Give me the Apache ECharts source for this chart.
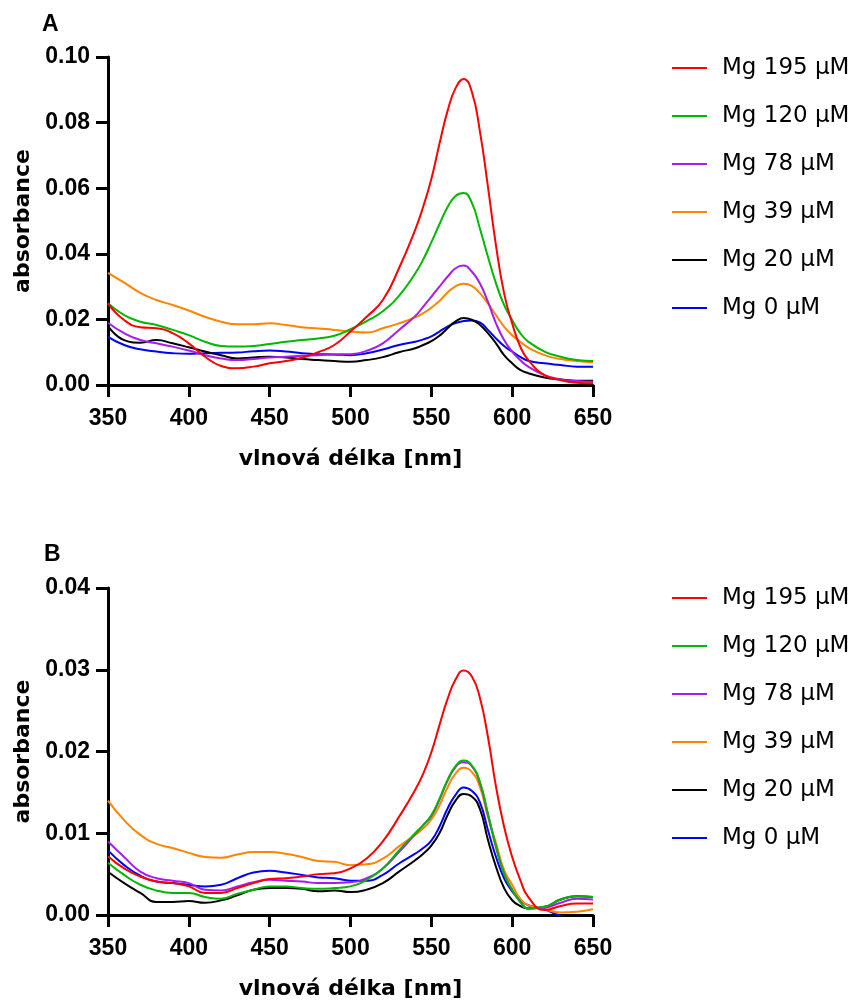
<!DOCTYPE html>
<html>
<head>
<meta charset="utf-8">
<script src="https://cdn.jsdelivr.net/npm/echarts@6/dist/echarts.min.js"></script>
<style>
html,body{margin:0;padding:0;background:#fff;}
#chart{width:857px;height:1003px;}
</style>
</head>
<body>
<div id="chart"></div>
<script>
// ---- data ----
const wavelengths = [350,360,370,380,390,400,410,420,430,440,450,460,470,480,490,500,510,520,530,540,
  545,550,555,560,565,570,575,580,585,590,595,600,605,610,620,630,640,650];
const seriesNames = ['Mg 195 \u03bcM','Mg 120 \u03bcM','Mg 78 \u03bcM','Mg 39 \u03bcM','Mg 20 \u03bcM','Mg 0 \u03bcM'];
const seriesColors = ['#FF0000','#00B800','#A61CF0','#FF8400','#000000','#0000FF'];
const xTicks = {min:350, max:650, interval:50};

// panel A
const mg195A = [0.0249,0.0198,0.0176,0.0173,0.0158,0.0127,0.0086,0.0058,0.0051,0.0056,0.0066,0.0073,0.0083,0.0100,0.0122,0.0163,0.0208,0.0259,0.0356,0.0473,
  0.0544,0.0628,0.0735,0.0835,0.0905,0.0933,0.0895,0.0775,0.0605,0.0425,0.0280,0.0188,0.0117,0.0076,0.0030,0.0015,0.0007,0.0005];
const mg120A = [0.0249,0.0213,0.0193,0.0183,0.0168,0.0152,0.0132,0.0119,0.0117,0.0119,0.0125,0.0132,0.0137,0.0142,0.0150,0.0170,0.0195,0.0225,0.0272,0.0340,
  0.0383,0.0435,0.0490,0.0542,0.0576,0.0585,0.0556,0.0478,0.0391,0.0310,0.0244,0.0198,0.0158,0.0132,0.0102,0.0086,0.0076,0.0073];
const mg78A  = [0.0190,0.0158,0.0137,0.0127,0.0117,0.0105,0.0091,0.0081,0.0076,0.0079,0.0084,0.0086,0.0089,0.0091,0.0093,0.0094,0.0104,0.0127,0.0168,0.0210,
  0.0239,0.0269,0.0300,0.0330,0.0356,0.0364,0.0346,0.0310,0.0254,0.0188,0.0137,0.0102,0.0076,0.0056,0.0030,0.0017,0.0012,0.0010];
const mg39A  = [0.0342,0.0312,0.0281,0.0259,0.0244,0.0227,0.0208,0.0193,0.0185,0.0185,0.0188,0.0183,0.0176,0.0172,0.0168,0.0163,0.0160,0.0173,0.0188,0.0206,
  0.0219,0.0236,0.0256,0.0282,0.0301,0.0309,0.0302,0.0280,0.0249,0.0213,0.0178,0.0152,0.0132,0.0114,0.0091,0.0079,0.0073,0.0069];
const mg20A  = [0.0180,0.0137,0.0129,0.0137,0.0127,0.0115,0.0102,0.0091,0.0081,0.0084,0.0086,0.0084,0.0079,0.0076,0.0073,0.0071,0.0076,0.0085,0.0100,0.0112,
  0.0122,0.0134,0.0150,0.0173,0.0194,0.0204,0.0199,0.0184,0.0158,0.0127,0.0091,0.0066,0.0046,0.0036,0.0023,0.0017,0.0013,0.0013];
const mg0A   = [0.0147,0.0122,0.0109,0.0102,0.0097,0.0095,0.0097,0.0098,0.0099,0.0103,0.0105,0.0102,0.0097,0.0094,0.0093,0.0091,0.0097,0.0108,0.0122,0.0132,
  0.0139,0.0148,0.0163,0.0178,0.0189,0.0195,0.0197,0.0191,0.0168,0.0142,0.0119,0.0102,0.0086,0.0074,0.0066,0.0061,0.0056,0.0056];
const yTicksA = {min:0, max:0.10, interval:0.02};

// panel B
const mg195B = [0.0072,0.0057,0.0047,0.0041,0.0039,0.0035,0.0027,0.0027,0.0033,0.0039,0.0044,0.0045,0.0047,0.0050,0.0051,0.0057,0.0069,0.0090,0.0120,0.0153,
  0.0173,0.0199,0.0232,0.0264,0.0288,0.0299,0.0292,0.0266,0.0218,0.0157,0.0108,0.0071,0.0043,0.0022,0.0006,0.0011,0.0014,0.0014];
const mg120B = [0.0064,0.0049,0.0037,0.0030,0.0027,0.0027,0.0022,0.0020,0.0026,0.0031,0.0035,0.0035,0.0033,0.0032,0.0033,0.0035,0.0043,0.0057,0.0079,0.0100,
  0.0110,0.0122,0.0142,0.0165,0.0182,0.0189,0.0183,0.0163,0.0124,0.0084,0.0051,0.0031,0.0016,0.0008,0.0010,0.0019,0.0023,0.0022];
const mg78B  = [0.0090,0.0071,0.0053,0.0045,0.0042,0.0039,0.0031,0.0030,0.0035,0.0040,0.0043,0.0042,0.0041,0.0039,0.0039,0.0040,0.0045,0.0057,0.0077,0.0099,
  0.0110,0.0121,0.0141,0.0164,0.0181,0.0187,0.0182,0.0162,0.0123,0.0083,0.0050,0.0031,0.0016,0.0008,0.0009,0.0015,0.0020,0.0019];
const mg39B  = [0.0140,0.0116,0.0098,0.0087,0.0082,0.0076,0.0071,0.0070,0.0074,0.0077,0.0077,0.0075,0.0071,0.0066,0.0065,0.0061,0.0062,0.0069,0.0084,0.0098,
  0.0106,0.0117,0.0134,0.0156,0.0173,0.0180,0.0175,0.0157,0.0120,0.0088,0.0055,0.0037,0.0020,0.0012,0.0007,0.0003,0.0004,0.0007];
const mg20B  = [0.0053,0.0039,0.0027,0.0016,0.0016,0.0017,0.0015,0.0018,0.0024,0.0031,0.0033,0.0033,0.0032,0.0029,0.0030,0.0028,0.0031,0.0039,0.0053,0.0067,
  0.0075,0.0085,0.0100,0.0122,0.0140,0.0148,0.0145,0.0130,0.0092,0.0059,0.0033,0.0018,0.0011,0.0008,0.0010,0.0019,0.0023,0.0022];
const mg0B   = [0.0079,0.0061,0.0048,0.0041,0.0039,0.0037,0.0035,0.0037,0.0045,0.0052,0.0054,0.0052,0.0049,0.0046,0.0045,0.0042,0.0042,0.0049,0.0063,0.0075,
  0.0082,0.0091,0.0108,0.0130,0.0147,0.0156,0.0152,0.0138,0.0104,0.0071,0.0045,0.0029,0.0018,0.0012,0.0007,-0.0001,-0.0005,-0.0008];
const yTicksB = {min:0, max:0.04, interval:0.01};

const xTitle = 'vlnová délka [nm]';
const yTitle = 'absorbance';
const panelLabels = ['A','B'];

// ---- build ----
const panelA = [mg195A, mg120A, mg78A, mg39A, mg20A, mg0A];
const panelB = [mg195B, mg120B, mg78B, mg39B, mg20B, mg0B];

const tickFont = 'Arial, "Liberation Sans", Helvetica, sans-serif';
const titleFont = '"DejaVu Sans"';

function xAxisDef(gi){
  return {
    type:'value', gridIndex:gi, min:xTicks.min, max:xTicks.max, interval:xTicks.interval,
    axisLine:{show:true, onZero:false, lineStyle:{color:'#000', width:3}},
    axisTick:{show:true, length:12, lineStyle:{color:'#000', width:3}},
    axisLabel:{color:'#000', fontSize:23, fontWeight:'bold', fontFamily:tickFont, margin:22},
    splitLine:{show:false},
    name:xTitle, nameLocation:'middle', nameGap:63,
    nameTextStyle:{color:'#000', fontSize:22, fontWeight:'bold', fontFamily:titleFont}
  };
}
function yAxisDef(gi, t){
  return {
    type:'value', gridIndex:gi, min:t.min, max:t.max, interval:t.interval,
    axisLine:{show:true, onZero:false, lineStyle:{color:'#000', width:3}},
    axisTick:{show:true, length:12, lineStyle:{color:'#000', width:3}},
    axisLabel:{color:'#000', fontSize:23, fontWeight:'bold', fontFamily:tickFont, margin:18,
      formatter:function(v){return v.toFixed(2);}},
    splitLine:{show:false},
    name:yTitle, nameLocation:'middle', nameGap:70, nameRotate:90,
    nameTextStyle:{color:'#000', fontSize:22, fontWeight:'bold', fontFamily:titleFont}
  };
}
function legendDef(top){
  return {
    orient:'vertical', left:667, top:top, itemWidth:35, itemHeight:2, itemGap:20,
    icon:'rect', data:seriesNames, selectedMode:false,
    textStyle:{color:'#000', fontSize:23, fontFamily:titleFont, lineHeight:28, padding:[0,0,0,10]}
  };
}
const series = [];
[panelA, panelB].forEach(function(panel, gi){
  for (let i = panel.length - 1; i >= 0; i--) {
    series.push({
      type:'line', name:seriesNames[i], xAxisIndex:gi, yAxisIndex:gi,
      data: wavelengths.map(function(w, k){ return [w, panel[i][k]]; }),
      showSymbol:false, smooth:0.5, clip:true,
      lineStyle:{color:seriesColors[i], width:2}, itemStyle:{color:seriesColors[i]},
      emphasis:{disabled:true}, animation:false
    });
  }
});

const chart = echarts.init(document.getElementById('chart'), null, {renderer:'canvas'});
chart.setOption({
  backgroundColor:'#fff',
  animation:false,
  grid:[
    {left:108, top:57, width:485, height:328, outerBoundsMode:'none', containLabel:false},
    {left:108, top:588, width:485, height:327, outerBoundsMode:'none', containLabel:false}
  ],
  xAxis:[xAxisDef(0), xAxisDef(1)],
  yAxis:[yAxisDef(0, yTicksA), yAxisDef(1, yTicksB)],
  legend:[legendDef(49), legendDef(579)],
  graphic:[
    {type:'text', left:42, top:13, style:{text:panelLabels[0], fontSize:23, fontWeight:'bold', fontFamily:tickFont, fill:'#000'}},
    {type:'text', left:44, top:543, style:{text:panelLabels[1], fontSize:23, fontWeight:'bold', fontFamily:tickFont, fill:'#000'}}
  ],
  series:series
});
</script>
</body>
</html>
